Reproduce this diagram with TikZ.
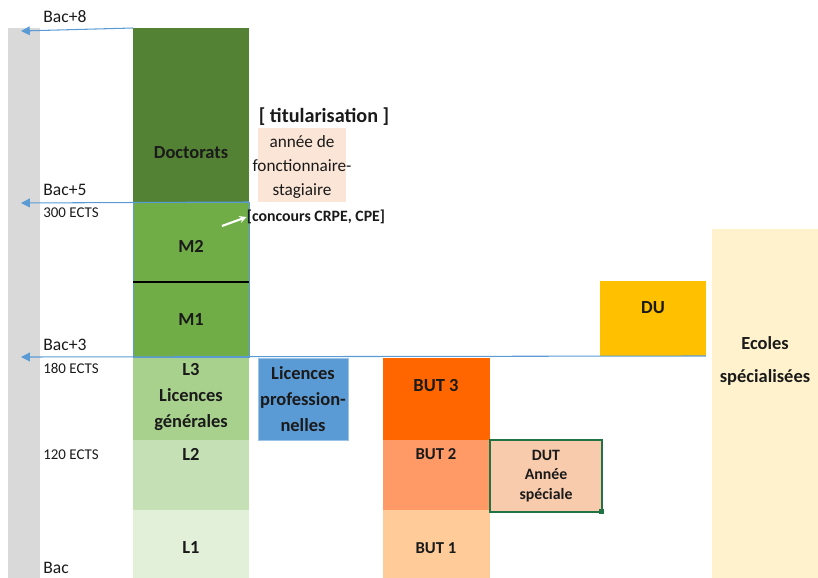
\documentclass[tikz,border=0pt]{standalone}
\usepackage{fontspec}
\setmainfont{Carlito}
\usetikzlibrary{arrows.meta}

\definecolor{bargray}{HTML}{D9D9D9}
\definecolor{docgreen}{HTML}{548235}
\definecolor{mgreen}{HTML}{70AD47}
\definecolor{lthree}{HTML}{A9D18E}
\definecolor{ltwo}{HTML}{C5E0B4}
\definecolor{lone}{HTML}{E2F0D9}
\definecolor{problue}{HTML}{5B9BD5}
\definecolor{proedge}{HTML}{9DC3E6}
\definecolor{butthree}{HTML}{FF6600}
\definecolor{buttwo}{HTML}{FF9966}
\definecolor{butone}{HTML}{FFCC99}
\definecolor{dutfill}{HTML}{F8CBAD}
\definecolor{dutgreen}{HTML}{217346}
\definecolor{dugold}{HTML}{FFC000}
\definecolor{ecole}{HTML}{FFF2CC}
\definecolor{fonct}{HTML}{FBE5D6}
\definecolor{arrowblue}{HTML}{5B9BD5}
\definecolor{ink}{HTML}{1A1A1A}

\tikzset{
  box/.style={rectangle, inner sep=0pt, outer sep=0pt, anchor=north west},
  lbl/.style={text=ink, font=\fontsize{10.5}{15}\selectfont\bfseries, align=center, inner sep=0pt},
  small/.style={text=ink, font=\fontsize{8.5}{10}\selectfont, anchor=west, inner sep=0pt},
  level/.style={text=ink, font=\fontsize{10}{12}\selectfont, anchor=west, inner sep=0pt},
  levelarrow/.style={draw=arrowblue, line width=0.6pt, -{Triangle[length=5pt,width=5pt]}}
}

\begin{document}
\begin{tikzpicture}[x=0.02cm, y=-0.02cm]
    \useasboundingbox (0,0) rectangle (818,578);

    % Grey scale on the left
    \node[box, minimum width=0.64cm, minimum height=11cm, fill=bargray] (bar) at (8,28) {};
    \coordinate (bar8) at (21,31);
    \coordinate (bar5) at (21,203);
    \coordinate (bar3) at (21,357);

    % University column
    \node[box, minimum width=2.32cm, minimum height=3.48cm, fill=docgreen] (doc) at (133,28) {};
    \node[box, minimum width=2.32cm, minimum height=1.6cm, fill=mgreen] (m2) at (133,202) {};
    \node[box, minimum width=2.32cm, minimum height=1.5cm, fill=mgreen] (m1) at (133,282) {};
    \node[box, minimum width=2.32cm, minimum height=1.66cm, fill=lthree] (l3) at (133,357) {};
    \node[box, minimum width=2.32cm, minimum height=1.4cm, fill=ltwo] (l2) at (133,440) {};
    \node[box, minimum width=2.32cm, minimum height=1.36cm, fill=lone] (l1) at (133,510) {};
    \draw[problue, line width=0.5pt] (m2.north west) rectangle (m1.south east);
    \draw[black, line width=0.7pt] (m2.south west) -- (m2.south east);

    \node[lbl] (doct) at (191,153) {Doctorats};
    \node[lbl] (m2t) at (191,246) {M2};
    \node[lbl] (m1t) at (191,320) {M1};
    \node[lbl] (l3t) at (191,397) {L3\\Licences\\générales};
    \node[lbl] (l2t) at (191,454) {L2};
    \node[lbl] (l1t) at (191,548) {L1};

    % Teaching career
    \node[text=ink, font=\fontsize{11.5}{14}\selectfont\bfseries, inner sep=0pt] (titu) at (324,117) {[ titularisation ]};
    \node[box, minimum width=1.76cm, minimum height=1.48cm, fill=fonct] (stage) at (258,128) {};
    \node[text=ink, font=\fontsize{9.8}{13.4}\selectfont, align=center, inner sep=0pt] (staget) at (302,167) {année de\\fonctionnaire-\\stagiaire};
    \node[text=ink, font=\fontsize{9}{11}\selectfont\bfseries, inner sep=0pt] (concours) at (316,217) {[concours CRPE, CPE]};
    \coordinate (wa) at (222,226);
    \draw[white, line width=1.2pt, -{Stealth[length=4pt,width=4pt]}] (wa) -- (concours.west);

    % Professional degrees
    \node[box, minimum width=1.8cm, minimum height=1.64cm, fill=problue, draw=proedge, line width=0.4pt] (lpro) at (258,358) {};
    \node[lbl] (lprot) at (303,399) {Licences\\profession-\\nelles};

    \node[box, minimum width=2.14cm, minimum height=1.64cm, fill=butthree] (but3) at (383,358) {};
    \node[box, minimum width=2.14cm, minimum height=1.4cm, fill=buttwo] (but2) at (383,440) {};
    \node[box, minimum width=2.14cm, minimum height=1.36cm, fill=butone] (but1) at (383,510) {};
    \node[lbl] (but3t) at (436,386) {BUT 3};
    \node[lbl, font=\fontsize{9.5}{12}\selectfont\bfseries] (but2t) at (436,454) {BUT 2};
    \node[lbl, font=\fontsize{9.5}{12}\selectfont\bfseries] (but1t) at (436,548) {BUT 1};

    \node[box, minimum width=2.24cm, minimum height=1.44cm, fill=dutfill, draw=dutgreen, line width=1pt] (dut) at (490,440) {};
    \node[lbl, font=\fontsize{9}{11.3}\selectfont\bfseries] (dutt) at (546,476) {DUT\\Année\\spéciale};
    \node[rectangle, fill=dutgreen, minimum size=0.1cm, inner sep=0pt] (handle) at (dut.south east) {};

    \node[box, minimum width=2.12cm, minimum height=1.5cm, fill=dugold] (du) at (600,281) {};
    \node[lbl] (dut2) at (653,308) {DU};

    \node[box, minimum width=2.12cm, minimum height=6.98cm, fill=ecole] (ecoles) at (712,229) {};
    \node[lbl, font=\fontsize{10.5}{19}\selectfont\bfseries] (ecolest) at (765,361) {Ecoles\\spécialisées};

    % Levels
    \draw[levelarrow] (doc.north west) -- (bar8);
    \draw[levelarrow] (m2.north east) -- (bar5);
    \draw[levelarrow] (du.south east) -- (bar3);

    \node[level] (bac8) at (43,17) {Bac+8};
    \node[level] (bac5) at (43,190) {Bac+5};
    \node[small] (ects300) at (43,213) {300 ECTS};
    \node[level] (bac3) at (43,345) {Bac+3};
    \node[small] (ects180) at (43,368) {180 ECTS};
    \node[small] (ects120) at (43,455) {120 ECTS};
    \node[level] (bac) at (43,568) {Bac};
\end{tikzpicture}
\end{document}
